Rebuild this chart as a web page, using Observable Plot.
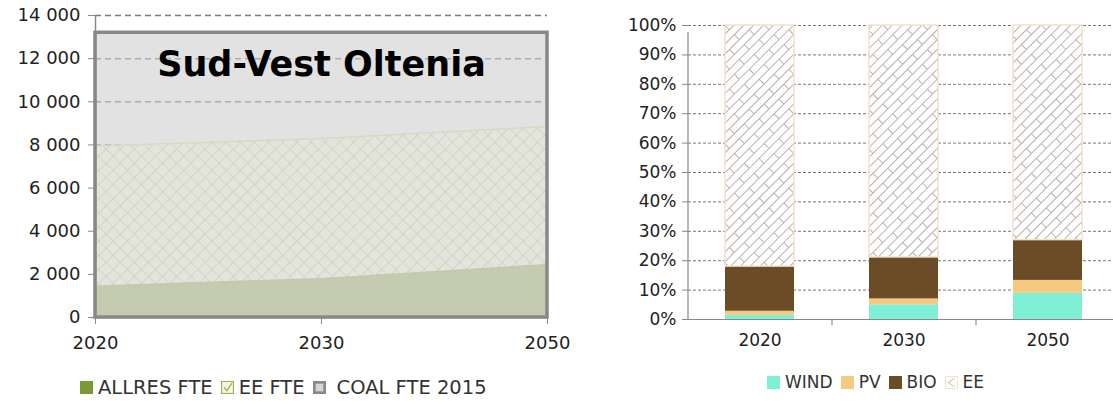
<!DOCTYPE html>
<html>
<head>
<meta charset="utf-8">
<script src="https://cdn.jsdelivr.net/npm/d3@7"></script>
<script src="https://cdn.jsdelivr.net/npm/@observablehq/plot@0.6"></script>
<style>
  html, body { margin: 0; padding: 0; background: #fff; width: 1113px; height: 401px; overflow: hidden; font-family: "DejaVu Sans", Verdana, sans-serif; }
  #left { position: absolute; left: 0; top: 0; width: 590px; }
  #right { position: absolute; left: 600px; top: 0; width: 520px; }
  #left svg, #right svg { max-width: none !important; }
  .legend { position: absolute; display: flex; align-items: center; color: #333; white-space: nowrap; }
  .legend .sw { display: inline-block; width: 13px; height: 13px; margin-right: 5px; }
  .legend span.t { margin-right: 8px; }
  #legL { left: 80px; top: 376px; font-size: 19.5px; }
  #legR { left: 767px; top: 372px; font-size: 17px; }
</style>
</head>
<body>
<svg width="0" height="0" style="position:absolute">
  <defs>
    <pattern id="crossL" patternUnits="userSpaceOnUse" width="10" height="10" patternTransform="rotate(45)">
      <rect width="10" height="10" fill="#e3e4da"/>
      <path d="M0 0 H10 M0 0 V10" stroke="#c6c7bf" stroke-width="1.2"/>
    </pattern>
    <pattern id="brick" patternUnits="userSpaceOnUse" width="28" height="14" patternTransform="rotate(-45)">
      <rect width="28" height="14" fill="#ffffff"/>
      <path d="M0 0.5 H28 M0 7.5 H28 M0.5 0.5 V7.5 M14.5 7.5 V14.5" stroke="#b4b4ae" stroke-width="1"/>
    </pattern>
  </defs>
</svg>
<div id="left"></div>
<div id="right"></div>
<div id="legL" class="legend"></div>
<div id="legR" class="legend"></div>
<script>
// ---------- Left chart data ----------
const years = ["2020", "2030", "2050"];
const allresFTE = [1450, 1800, 2450];
const eeFTE = [6500, 6500, 6400];
const coalFTE2015 = [13200, 13200, 13200];
const leftTicks = [0, 2000, 4000, 6000, 8000, 10000, 12000, 14000];
const regionTitle = "Sud-Vest Oltenia";

// ---------- Right chart data (percent shares) ----------
const mixYears = ["2020", "2030", "2050"];
const windShare = [1.4, 5.0, 8.9];
const pvShare = [1.4, 2.0, 4.4];
const bioShare = [15.2, 14.1, 13.7];
const eeShare = [82.0, 78.9, 73.0];
const rightTicks = [0, 10, 20, 30, 40, 50, 60, 70, 80, 90, 100];
const mixSeries = ["WIND", "PV", "BIO", "EE"];
const mixColors = ["#7ff0d6", "#f5c97f", "#6b4c26", "url(#brick)"];

const fmtSpace = d => d3.format(",")(d).replace(/,/g, " ");

// Build tables
const stackRows = [];
years.forEach((y, i) => {
  stackRows.push({i, year: y, series: "ALLRES FTE", value: allresFTE[i]});
  stackRows.push({i, year: y, series: "EE FTE", value: eeFTE[i]});
});
const coalRows = [{x1: 0, x2: years.length - 1, y: coalFTE2015[0]}];
const idx = years.map((_, i) => i);

const left = Plot.plot({
  width: 590, height: 360,
  marginLeft: 95, marginRight: 43, marginTop: 15, marginBottom: 43,
  style: {fontFamily: "DejaVu Sans, Verdana, sans-serif", fontSize: "18px", color: "#333", background: "transparent"},
  x: {type: "linear", domain: [0, years.length - 1], label: null},
  y: {domain: [0, 14000], label: null},
  marks: [
    Plot.ruleY(leftTicks.filter(d => d > 0), {stroke: "#7a7a7a", strokeDasharray: "6,4", strokeWidth: 1.5}),
    Plot.rectY(coalRows, {x1: "x1", x2: "x2", y1: 0, y2: "y", fill: "#cfcfcf", fillOpacity: 0.6, stroke: "none"}),
    Plot.areaY(stackRows, Plot.stackY({x: "i", y: "value", z: "series", order: ["ALLRES FTE", "EE FTE"],
      fill: d => d.series === "ALLRES FTE" ? "#c5cbb0" : "url(#crossL)"})),
    Plot.lineY(stackRows, Plot.stackY2({x: "i", y: "value", z: "series", order: ["ALLRES FTE", "EE FTE"],
      stroke: d => d.series === "ALLRES FTE" ? "#c3c9ac" : "#d6dac2", strokeWidth: 1.5})),
    Plot.rectY(coalRows, {x1: "x1", x2: "x2", y1: 0, y2: "y", fill: "none", stroke: "#888", strokeWidth: 3.5}),
    Plot.ruleX([0], {stroke: "#888", strokeWidth: 1.5}),
    Plot.ruleY([0], {stroke: "#888", strokeWidth: 1.5}),
    Plot.text([regionTitle], {x: 1, y: 11700, text: d => d, fontSize: 35, fontWeight: "bold", fill: "#000"}),
    Plot.axisX({ticks: idx, tickFormat: i => years[i], stroke: "#888", tickSize: 7, tickPadding: 12, fill: "#222"}),
    Plot.axisY({ticks: leftTicks, tickFormat: fmtSpace, stroke: "#888", tickSize: 7, tickPadding: 8, fill: "#222"})
  ]
});
document.getElementById("left").appendChild(left);

// Right chart
const mixRows = [];
mixYears.forEach((y, i) => {
  [windShare, pvShare, bioShare, eeShare].forEach((arr, k) => {
    mixRows.push({year: y, series: mixSeries[k], value: arr[i]});
  });
});

const right = Plot.plot({
  width: 520, height: 360,
  marginLeft: 88, marginRight: 0, marginTop: 25, marginBottom: 41,
  style: {fontFamily: "DejaVu Sans, Verdana, sans-serif", fontSize: "17px", color: "#333", background: "transparent"},
  x: {domain: mixYears, paddingInner: 0.52, paddingOuter: 0.26, label: null},
  y: {domain: [0, 100], label: null},
  color: {domain: mixSeries, range: mixColors},
  marks: [
    Plot.ruleY(rightTicks.filter(d => d > 0), {stroke: "#777", strokeDasharray: "3,2", strokeWidth: 1}),
    Plot.barY(mixRows, Plot.stackY({x: "year", y: "value", fill: "series", order: mixSeries,
      stroke: d => d.series === "EE" ? "#efe2c9" : "none", strokeWidth: 1.5})),
    Plot.ruleY([0], {stroke: "#888", strokeWidth: 1.2}),
    Plot.ruleX([mixYears[0]], {x: d => d, dx: -72, y1: 0, y2: 100, stroke: "#888", strokeWidth: 1.2, insetBottom: -7}),
    Plot.ruleX(mixYears.slice(1), {x: d => d, dx: -72, y1: 0, y2: 0, stroke: "#888", strokeWidth: 1.2, insetBottom: -6}),
    Plot.axisX({tickSize: 0, tickPadding: 14, fill: "#222"}),
    Plot.axisY({ticks: rightTicks, tickFormat: d => d + "%", stroke: "#888", tickSize: 6, tickPadding: 6, fill: "#222"})
  ]
});
document.getElementById("right").appendChild(right);

// Legends
function swatchSVG(fill, stroke, extra) {
  return `<svg class="sw" width="13" height="13" viewBox="0 0 12 12"><rect x="0.5" y="0.5" width="11" height="11" fill="${fill}" stroke="${stroke}" stroke-width="1"/>${extra || ""}</svg>`;
}
const legL = document.getElementById("legL");
legL.innerHTML =
  swatchSVG("#7a9a3a", "#7a9a3a") + `<span class="t">ALLRES FTE</span>` +
  swatchSVG("#f4f6e8", "#9cb24f", `<path d="M3 6 L5.5 9 L10 2" fill="none" stroke="#9cb24f" stroke-width="1.2"/>`) + `<span class="t">EE FTE</span>` +
  swatchSVG("#d6d6d6", "#8a8a8a", `<rect x="1.5" y="1.5" width="9" height="9" fill="none" stroke="#8a8a8a" stroke-width="2"/>`) + `<span class="t" style="margin-left:6px">COAL FTE 2015</span>`;

const legR = document.getElementById("legR");
const legFills = ["#7ff0d6", "#f5c97f", "#6b4c26"];
legR.innerHTML = mixSeries.map((s, k) => {
  const sw = k < 3 ? swatchSVG(legFills[k], legFills[k])
    : swatchSVG("#ffffff", "#efe2c9", `<path d="M9 2 L3 6 L9 10" fill="none" stroke="#c8c8c0" stroke-width="1"/>`);
  return sw + `<span class="t">${s}</span>`;
}).join("");
</script>
</body>
</html>
